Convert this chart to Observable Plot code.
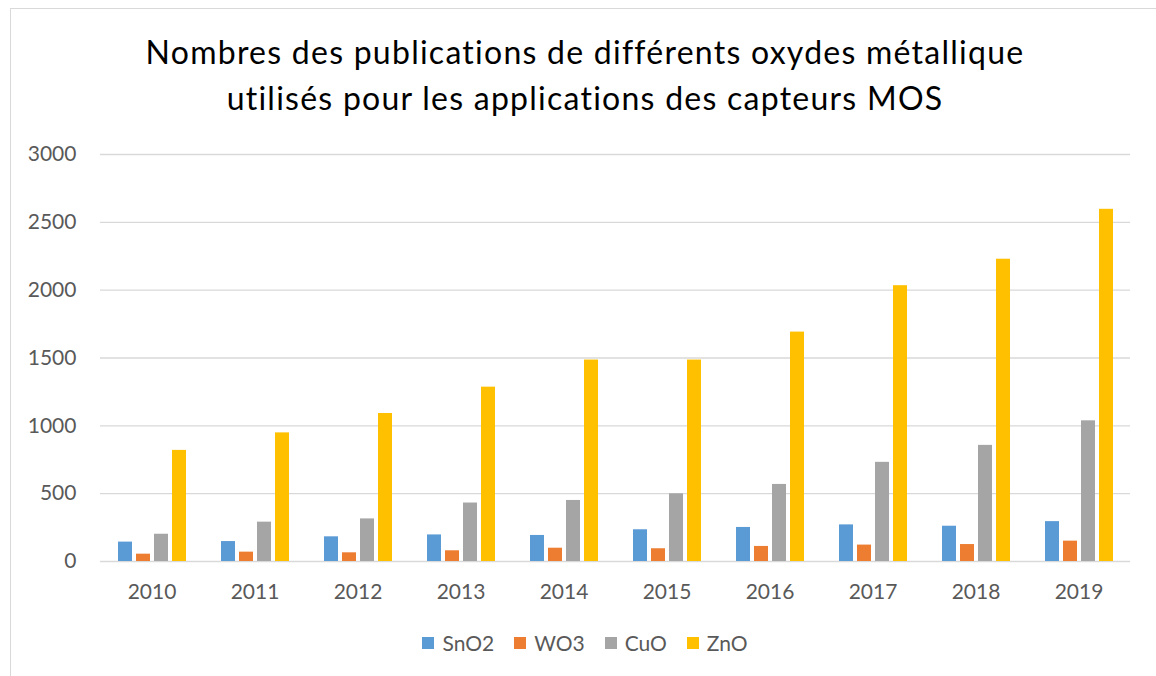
<!DOCTYPE html>
<html>
<head>
<meta charset="utf-8">
<script src="https://cdn.jsdelivr.net/npm/d3@7"></script>
<script src="https://cdn.jsdelivr.net/npm/@observablehq/plot@0.6"></script>
<style>
  html, body { margin: 0; padding: 0; background: #fff; }
  #wrap { position: relative; width: 1156px; height: 676px; overflow: hidden; font-family: Lato, "Open Sans", sans-serif; }
  #frame { position: absolute; left: 10px; top: 8px; width: 1170px; height: 700px; border: 1px solid #d9d9d9; box-sizing: border-box; }
  #title { position: absolute; left: 10px; width: 1150px; top: 29px; text-align: center; font-size: 32px; letter-spacing: 1.25px; line-height: 46px; color: #000; }
  #chart { position: absolute; left: 0; top: 0; }
  #legend { position: absolute; left: 10px; width: 1150px; top: 630px; display: flex; justify-content: center; gap: 20px; font-size: 21px; color: #595959; }
  .item { display: flex; align-items: center; gap: 8px; }
  .sw { width: 12px; height: 12px; display: inline-block; }
</style>
</head>
<body>
<div id="wrap">
  <div id="frame"></div>
  <div id="title">Nombres des publications de différents oxydes métallique<br>utilisés pour les applications des capteurs MOS</div>
  <div id="chart"></div>
  <div id="legend"></div>
</div>
<script>
const years = ["2010","2011","2012","2013","2014","2015","2016","2017","2018","2019"];
const series = ["SnO2","WO3","CuO","ZnO"];
const colors = ["#5B9BD5","#ED7D31","#A5A5A5","#FFC000"];
const SnO2 = [143,147,182,196,192,234,251,270,260,294];
const WO3  = [54,69,64,79,98,94,111,121,125,150];
const CuO  = [201,290,314,431,450,499,568,731,856,1037];
const ZnO  = [819,948,1091,1285,1485,1485,1691,2033,2228,2596];
const yTicks = [0,500,1000,1500,2000,2500,3000];

const values = [SnO2, WO3, CuO, ZnO];
const rows = years.flatMap((yr, i) => series.map((s, j) => ({year: yr, series: s, value: values[j][i]})));

const W = 1156, H = 620, mL = 97, mR = 23;
const pi = 0.31;
const step = (W - mL - mR) / years.length;
const ext = -step * pi / 2;

const chart = Plot.plot({
  width: W, height: H,
  marginTop: 154, marginBottom: 59, marginLeft: mL, marginRight: mR,
  style: {fontFamily: "Lato, 'Open Sans', sans-serif", fontSize: "21px", color: "#595959", background: "transparent", overflow: "visible"},
  fx: {domain: years, paddingInner: pi, paddingOuter: pi / 2, label: null, tickSize: 0, tickPadding: 23},
  x: {domain: series, paddingInner: 0.24, paddingOuter: 0, axis: null},
  y: {domain: [0, 3000], ticks: yTicks, tickSize: 0, tickPadding: 24 - ext, label: null, tickFormat: d => String(d)},
  color: {domain: series, range: colors},
  marks: [
    Plot.ruleY(yTicks, {stroke: "#d9d9d9", strokeWidth: 1.3, insetLeft: ext, insetRight: ext}),
    Plot.barY(rows, {fx: "year", x: "series", y: "value", fill: "series"})
  ]
});
document.getElementById("chart").appendChild(chart);

const legend = document.getElementById("legend");
series.forEach((s, i) => {
  const it = document.createElement("div");
  it.className = "item";
  const sw = document.createElement("span");
  sw.className = "sw";
  sw.style.background = colors[i];
  const t = document.createElement("span");
  t.textContent = s;
  it.appendChild(sw); it.appendChild(t);
  legend.appendChild(it);
});
</script>
</body>
</html>
